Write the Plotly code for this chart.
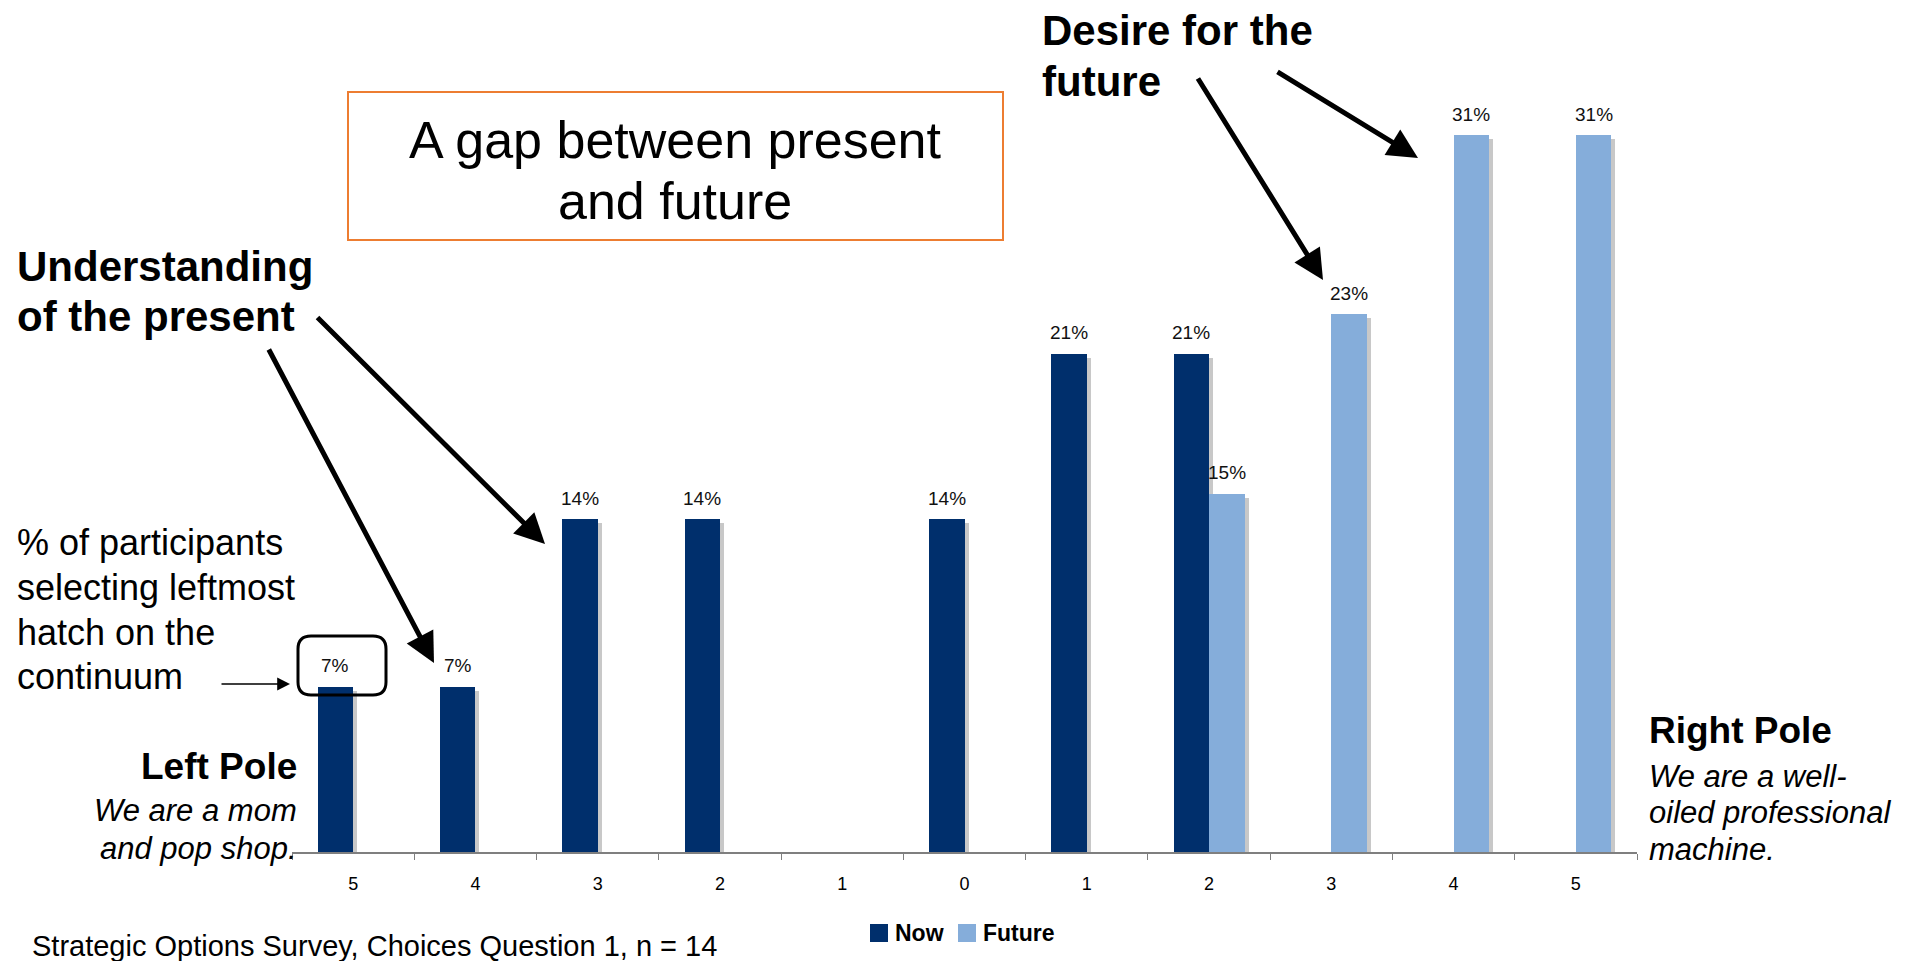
import plotly.graph_objects as go

# ---- data -------------------------------------------------------------
scale_labels = ["5", "4", "3", "2", "1", "0", "1", "2", "3", "4", "5"]
now_pct = [7.1, 7.1, 14.3, 14.3, None, 14.3, 21.4, 21.4, None, None, None]
future_pct = [None, None, None, None, None, None, None, 15.4, 23.1, 30.8, 30.8]

NAVY = "#002F6C"
SKY = "#85ADDA"
SHADOW = "#C8C8C8"
ORANGE = "#ED7D31"
FONT = "Liberation Sans, Arial, sans-serif"

# ---- page geometry (pixels) -------------------------------------------
W, H = 1913, 961
L, R = 292, 1637          # plot area left / right
T, B = 84, 852            # plot area top / bottom
Y_MAX = 33.0
BAR_W = 0.29              # bar width in category units
px_per_x = (R - L) / 11.0
px_per_y = (B - T) / Y_MAX
SH_DX = 4 / px_per_x      # drop-shadow offset
SH_DY = 4 / px_per_y


def X(px):
    return (px - L) / (R - L)


def Y(py):
    return (B - py) / (B - T)


xs = list(range(len(scale_labels)))


def shifted(vals):
    return [None if v is None else v - SH_DY for v in vals]


fig = go.Figure()

# drop shadows, drawn first so the bars sit on top of them
for vals, off in ((now_pct, -BAR_W), (future_pct, 0.0)):
    fig.add_trace(go.Bar(
        x=xs, y=shifted(vals), offset=off + SH_DX, width=BAR_W,
        marker=dict(color=SHADOW, line=dict(width=0)),
        showlegend=False, hoverinfo="skip",
    ))

fig.add_trace(go.Bar(
    x=xs, y=now_pct, name="Now", offset=-BAR_W, width=BAR_W,
    marker=dict(color=NAVY, line=dict(width=0)),
))
fig.add_trace(go.Bar(
    x=xs, y=future_pct, name="Future", offset=0.0, width=BAR_W,
    marker=dict(color=SKY, line=dict(width=0)),
))

annotations = []

# value labels above bars
for vals, off in ((now_pct, -BAR_W), (future_pct, 0.0)):
    for i, v in enumerate(vals):
        if v is None:
            continue
        annotations.append(dict(
            x=i + off + BAR_W / 2, y=v, xref="x", yref="y",
            text=f"{v:.0f}%", showarrow=False, yanchor="middle",
            yshift=21, font=dict(family=FONT, size=19, color="#111111"),
        ))


def text(px, py, s, size, bold=False, italic=False, anchor="left"):
    if bold:
        s = f"<b>{s}</b>"
    if italic:
        s = f"<i>{s}</i>"
    annotations.append(dict(
        x=X(px), y=Y(py), xref="paper", yref="paper", text=s,
        showarrow=False, xanchor=anchor, yanchor="middle",
        font=dict(family=FONT, size=size, color="#000000"),
    ))


# headline inside the orange box
text(675, 140, "A gap between present", 52, anchor="center")
text(675, 201, "and future", 52, anchor="center")

# callouts
text(15, 266, "Understanding", 42, bold=True)
text(15, 316, "of the present", 42, bold=True)
text(1040, 31, "Desire for the", 42, bold=True)
text(1040, 82, "future", 42, bold=True)

for py, line in zip((542, 587, 632, 676),
                    ("% of participants", "selecting leftmost",
                     "hatch on the", "continuum")):
    text(15, py, line, 36)

# pole descriptions
text(299, 766, "Left Pole", 37, bold=True, anchor="right")
text(299, 810, "We are a mom", 31, italic=True, anchor="right")
text(299, 848, "and pop shop.", 31, italic=True, anchor="right")
text(1647, 730, "Right Pole", 37, bold=True)
text(1647, 776, "We are a well-", 31, italic=True)
text(1647, 812, "oiled professional", 31, italic=True)
text(1647, 849, "machine.", 31, italic=True)

# footnote
text(30, 946, "Strategic Options Survey, Choices Question 1, n = 14", 29)

# legend, drawn as swatches + labels
for sx, colour, label in ((870, NAVY, "Now"), (958, SKY, "Future")):
    text(sx + 23, 933, label, 23, bold=True)


def arrow(x0, y0, x1, y1, width, size):
    annotations.append(dict(
        x=X(x1), y=Y(y1), xref="paper", yref="paper",
        ax=x0 - x1, ay=y0 - y1, text="", showarrow=True,
        arrowhead=2, arrowwidth=width, arrowsize=size,
        arrowcolor="#000000", standoff=0,
    ))


arrow(316, 316, 545, 544, 5, 1.2)
arrow(268, 348, 434, 663, 5, 1.2)
arrow(1197, 77, 1323, 280, 5, 1.2)
arrow(1276, 71, 1418, 158, 5, 1.2)
arrow(220, 684, 290, 684, 1.6, 1.6)

# rounded frame around the leftmost label
x0, x1, y0, y1, r = 298, 386, 636, 695, 13


def P(px, py):
    return f"{X(px):.5f},{Y(py):.5f}"


frame = (f"M{P(x0 + r, y0)} L{P(x1 - r, y0)} Q{P(x1, y0)} {P(x1, y0 + r)} "
         f"L{P(x1, y1 - r)} Q{P(x1, y1)} {P(x1 - r, y1)} "
         f"L{P(x0 + r, y1)} Q{P(x0, y1)} {P(x0, y1 - r)} "
         f"L{P(x0, y0 + r)} Q{P(x0, y0)} {P(x0 + r, y0)} Z")

shapes = [
    dict(type="rect", xref="paper", yref="paper",
         x0=X(348), x1=X(1003), y0=Y(92), y1=Y(240),
         line=dict(color=ORANGE, width=2)),
    dict(type="path", xref="paper", yref="paper", path=frame,
         line=dict(color="#000000", width=3)),
]
# legend swatches
for sx, colour in ((870, NAVY), (958, SKY)):
    shapes.append(dict(type="rect", xref="paper", yref="paper",
                       x0=X(sx), x1=X(sx + 18), y0=Y(924), y1=Y(942),
                       fillcolor=colour, line=dict(width=0)))

fig.update_layout(
    width=W, height=H,
    margin=dict(l=L, r=W - R, t=T, b=H - B, pad=0),
    paper_bgcolor="white", plot_bgcolor="white",
    barmode="overlay", bargap=0,
    font=dict(family=FONT, color="#000000"),
    xaxis=dict(
        range=[-0.5, 10.5], tickmode="array", tickvals=xs,
        ticktext=scale_labels, ticks="outside", ticklen=15,
        tickcolor="rgba(0,0,0,0)", showgrid=False, zeroline=False,
        showline=True, linecolor="#7F7F7F", linewidth=1.5,
        tickfont=dict(family=FONT, size=18, color="#000000"),
        minor=dict(tickmode="array",
                   tickvals=[i - 0.5 for i in range(len(xs) + 1)],
                   ticks="outside", ticklen=6, tickwidth=1.2,
                   tickcolor="#7F7F7F", showgrid=False),
        fixedrange=True,
    ),
    yaxis=dict(range=[0, Y_MAX], visible=False, fixedrange=True),
    annotations=annotations,
    shapes=shapes,
    showlegend=False,
)

fig.write_html("out.html")
